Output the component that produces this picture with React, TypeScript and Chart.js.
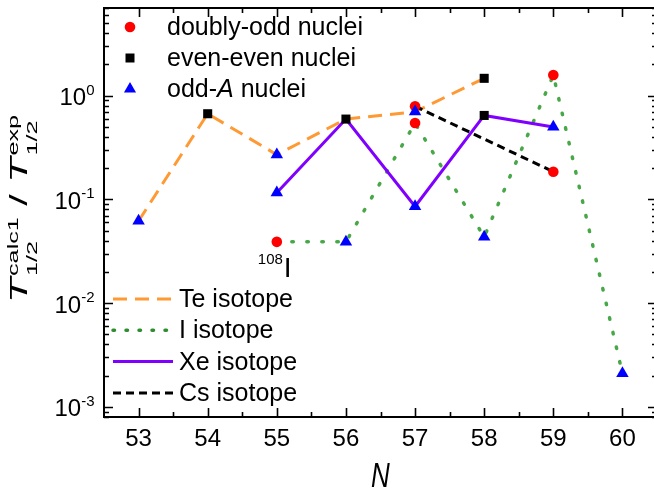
import { useEffect, useRef } from 'react';
import { Chart, registerables } from 'chart.js';

Chart.register(...registerables);

// ---- data ----
const teN = [53, 54, 55, 56, 57, 58];
const teRatio = [0.062, 0.67, 0.27, 0.595, 0.70, 1.47];
const iN = [55, 56, 57, 58, 59, 60];
const iRatio = [0.039, 0.039, 0.545, 0.0435, 1.58, 0.0021];
const xeN = [55, 56, 57, 58, 59];
const xeRatio = [0.116, 0.595, 0.0855, 0.645, 0.5];
const csN = [57, 59];
const csRatio = [0.79, 0.185];

const oddOddN = [55, 57, 57, 59, 59];
const oddOddRatio = [0.039, 0.79, 0.545, 1.58, 0.185];
const evenEvenN = [54, 56, 58, 58];
const evenEvenRatio = [0.67, 0.595, 1.47, 0.645];
const oddAN = [53, 55, 55, 56, 57, 57, 58, 59, 60];
const oddARatio = [0.062, 0.27, 0.116, 0.039, 0.7, 0.0855, 0.0435, 0.5, 0.0021];

const xTickValues = [53, 54, 55, 56, 57, 58, 59, 60];
const yTickValues = [1e-3, 1e-2, 1e-1, 1];
const yTickExponents = ['-3', '-2', '-1', '0'];
const markerLegendLabels = ['doubly-odd nuclei', 'even-even nuclei', 'odd-A nuclei'];
const lineLegendLabels = ['Te isotope', 'I isotope', 'Xe isotope', 'Cs isotope'];
const annotationN = 55;
const annotationRatio = 0.039;

const FONT = '"Liberation Sans", Arial, Helvetica, sans-serif';
const C_TE = '#FF9933';
const C_I = '#48A848';
const C_XE = '#8000FF';
const C_CS = '#000000';
const C_RED = '#FF0000';
const C_BLACK = '#000000';
const C_BLUE = '#0000FF';

const DASH_TE = [14, 8];
const DASH_I = [1.5, 13.5];
const DASH_CS = [8, 5];

const CANVAS_W = 662;
const CANVAS_H = 493;

const pts = (xs: number[], ys: number[]) => xs.map((x, i) => ({ x, y: ys[i] }));

function drawMarker(ctx: CanvasRenderingContext2D, kind: string, x: number, y: number) {
  ctx.beginPath();
  if (kind === 'circle') {
    ctx.fillStyle = C_RED;
    ctx.arc(x, y, 5.3, 0, Math.PI * 2);
  } else if (kind === 'rect') {
    ctx.fillStyle = C_BLACK;
    ctx.rect(x - 4.5, y - 4.5, 9, 9);
  } else {
    ctx.fillStyle = C_BLUE;
    const r = 7;
    for (let k = 0; k < 3; k++) {
      const ang = (k * 2 * Math.PI) / 3;
      const px = x + Math.sin(ang) * r;
      const py = y - Math.cos(ang) * r;
      if (k === 0) ctx.moveTo(px, py);
      else ctx.lineTo(px, py);
    }
    ctx.closePath();
  }
  ctx.fill();
}

const decorPlugin = {
  id: 'decor',
  afterDatasetsDraw(chart: any) {
    const { ctx, chartArea: a, scales } = chart;
    const xs = scales.x;
    const ys = scales.y;
    ctx.save();

    // frame
    ctx.strokeStyle = '#000';
    ctx.lineWidth = 2;
    ctx.strokeRect(a.left, a.top, a.right - a.left, a.bottom - a.top);

    // inward ticks
    ctx.lineWidth = 1.6;
    ctx.beginPath();
    for (let v = xs.min + 0.5; v < xs.max - 1e-9; v += 0.5) {
      const px = Math.round(xs.getPixelForValue(v)) + 0.5;
      const len = Math.abs(v - Math.round(v)) < 1e-9 ? 9 : 5;
      ctx.moveTo(px, a.bottom);
      ctx.lineTo(px, a.bottom - len);
      ctx.moveTo(px, a.top);
      ctx.lineTo(px, a.top + len);
    }
    for (let d = -4; d <= 1; d++) {
      for (let m = 1; m <= 9; m++) {
        const v = m * Math.pow(10, d);
        if (v < ys.min || v > ys.max) continue;
        const py = Math.round(ys.getPixelForValue(v)) + 0.5;
        const len = m === 1 ? 9 : 5;
        ctx.moveTo(a.left, py);
        ctx.lineTo(a.left + len, py);
        ctx.moveTo(a.right, py);
        ctx.lineTo(a.right - len, py);
      }
    }
    ctx.stroke();

    ctx.fillStyle = '#000';
    ctx.textBaseline = 'alphabetic';

    // x tick labels
    ctx.font = `24px ${FONT}`;
    ctx.textAlign = 'center';
    xTickValues.forEach((v) => {
      ctx.fillText(String(v), xs.getPixelForValue(v), a.bottom + 29);
    });

    // y tick labels 10^n
    yTickValues.forEach((v, i) => {
      const py = ys.getPixelForValue(v);
      const xr = a.left - 9.5;
      ctx.font = `15px ${FONT}`;
      const ew = ctx.measureText(yTickExponents[i]).width;
      ctx.textAlign = 'left';
      ctx.fillText(yTickExponents[i], xr - ew, py - 1);
      ctx.font = `24px ${FONT}`;
      ctx.textAlign = 'right';
      ctx.fillText('10', xr - ew, py + 9.5);
    });

    // annotation 108I
    {
      const px = xs.getPixelForValue(annotationN);
      const py = ys.getPixelForValue(annotationRatio);
      ctx.font = `15px ${FONT}`;
      ctx.textAlign = 'right';
      ctx.fillText('108', px + 6, py + 22);
      ctx.font = `28px ${FONT}`;
      ctx.textAlign = 'left';
      ctx.fillText('I', px + 7, py + 35);
    }

    // marker legend (top left)
    const kinds = ['circle', 'rect', 'triangle'];
    ctx.textAlign = 'left';
    markerLegendLabels.forEach((lab, i) => {
      const y = a.top + 19 + i * 31;
      drawMarker(ctx, kinds[i], a.left + 26, y);
      ctx.fillStyle = '#000';
      ctx.font = `25px ${FONT}`;
      const tx = a.left + 63;
      if (lab.includes('-A')) {
        const head = 'odd-';
        ctx.fillText(head, tx, y + 8);
        const w1 = ctx.measureText(head).width;
        ctx.font = `italic 25px ${FONT}`;
        ctx.fillText('A', tx + w1, y + 8);
        const w2 = ctx.measureText('A').width;
        ctx.font = `25px ${FONT}`;
        ctx.fillText(' nuclei', tx + w1 + w2, y + 8);
      } else {
        ctx.fillText(lab, tx, y + 8);
      }
    });

    // line legend (bottom left)
    const lineStyles = [
      { c: C_TE, d: DASH_TE, w: 3, cap: 'butt' },
      { c: '#2E8E2E', d: [1.5, 11.5], w: 3.5, cap: 'round' },
      { c: C_XE, d: [], w: 3, cap: 'butt' },
      { c: C_CS, d: DASH_CS, w: 3, cap: 'butt' },
    ];
    lineLegendLabels.forEach((lab, i) => {
      const y = a.top + 291 + i * 31.3;
      const s = lineStyles[i];
      ctx.save();
      ctx.strokeStyle = s.c;
      ctx.lineWidth = s.w;
      ctx.lineCap = s.cap;
      ctx.setLineDash(s.d);
      ctx.beginPath();
      ctx.moveTo(a.left + 9, y);
      ctx.lineTo(a.left + 69, y);
      ctx.stroke();
      ctx.restore();
      ctx.fillStyle = '#000';
      ctx.font = `25px ${FONT}`;
      ctx.textAlign = 'left';
      ctx.fillText(lab, a.left + 75, y + 8);
    });

    // x title N
    ctx.save();
    ctx.translate((a.left + a.right) / 2, 487);
    ctx.scale(1, 1.35);
    ctx.font = `italic 26px ${FONT}`;
    ctx.textAlign = 'center';
    ctx.fillText('N', 0, 0);
    ctx.restore();

    // y title  T^calc1_1/2 / T^exp_1/2
    ctx.save();
    ctx.translate(27, 209);
    ctx.rotate(-Math.PI / 2);
    ctx.scale(1.8, 1);
    ctx.textAlign = 'left';
    const big = `italic 23px ${FONT}`;
    const reg = `23px ${FONT}`;
    const sm = `14px ${FONT}`;
    ctx.font = big;
    const wT = ctx.measureText('T').width;
    ctx.font = sm;
    const wS1 = Math.max(ctx.measureText('calc1').width, ctx.measureText('1/2').width);
    const wS2 = Math.max(ctx.measureText('exp').width, ctx.measureText('1/2').width);
    ctx.font = reg;
    const wSl = ctx.measureText(' / ').width;
    const total = wT + 1 + wS1 + wSl + wT + 1 + wS2;
    let x = -total / 2;
    ctx.font = big;
    ctx.fillText('T', x, 0);
    x += wT + 1;
    ctx.font = sm;
    ctx.fillText('calc1', x, -9);
    ctx.fillText('1/2', x, 10);
    x += wS1;
    ctx.font = reg;
    ctx.fillText(' / ', x, 0);
    x += wSl;
    ctx.font = big;
    ctx.fillText('T', x, 0);
    x += wT + 1;
    ctx.font = sm;
    ctx.fillText('exp', x, -9);
    ctx.fillText('1/2', x, 10);
    ctx.restore();

    ctx.restore();
  },
};

export default function App() {
  const ref = useRef<HTMLCanvasElement>(null);

  useEffect(() => {
    if (!ref.current) return;
    const lineDs = (label: string, xs: number[], ys: number[], color: string, dash: number[], width: number, cap: string) => ({
      label,
      data: pts(xs, ys),
      showLine: true,
      borderColor: color,
      backgroundColor: color,
      borderWidth: width,
      borderDash: dash,
      borderCapStyle: cap,
      pointRadius: 0,
      pointHoverRadius: 0,
      tension: 0,
    });
    const chart = new Chart(ref.current, {
      type: 'scatter',
      data: {
        datasets: [
          {
            label: 'odd-A nuclei',
            data: pts(oddAN, oddARatio),
            pointStyle: 'triangle',
            pointRadius: 7.2,
            pointBackgroundColor: C_BLUE,
            pointBorderWidth: 0,
            borderColor: C_BLUE,
          },
          {
            label: 'even-even nuclei',
            data: pts(evenEvenN, evenEvenRatio),
            pointStyle: 'rect',
            pointRadius: 6.4,
            pointBackgroundColor: C_BLACK,
            pointBorderWidth: 0,
            borderColor: C_BLACK,
          },
          {
            label: 'doubly-odd nuclei',
            data: pts(oddOddN, oddOddRatio),
            pointStyle: 'circle',
            pointRadius: 5.3,
            pointBackgroundColor: C_RED,
            pointBorderWidth: 0,
            borderColor: C_RED,
          },
          lineDs('Cs isotope', csN, csRatio, C_CS, DASH_CS, 3, 'butt'),
          lineDs('Xe isotope', xeN, xeRatio, C_XE, [], 3, 'butt'),
          lineDs('I isotope', iN, iRatio, C_I, DASH_I, 3.5, 'round'),
          lineDs('Te isotope', teN, teRatio, C_TE, DASH_TE, 3, 'butt'),
        ] as any,
      },
      options: {
        animation: false,
        responsive: false,
        devicePixelRatio: 1,
        events: [],
        layout: { autoPadding: false, padding: { left: 0, top: 8, right: CANVAS_W - 657, bottom: 0 } },
        scales: {
          x: {
            type: 'linear',
            min: 52.5,
            max: 60.5,
            ticks: { display: false },
            grid: { display: false },
            border: { display: false },
            afterFit: (s: any) => {
              s.height = 76;
            },
          },
          y: {
            type: 'logarithmic',
            min: 8e-4,
            max: 7,
            ticks: { display: false },
            grid: { display: false },
            border: { display: false },
            afterFit: (s: any) => {
              s.width = 104;
            },
          },
        },
        plugins: {
          legend: { display: false },
          tooltip: { enabled: false },
          title: { display: false },
        },
      } as any,
      plugins: [decorPlugin],
    });
    return () => chart.destroy();
  }, []);

  return (
    <div style={{ position: 'fixed', left: 0, top: 0, width: 654, height: 493, overflow: 'hidden', background: '#fff' }}>
      <canvas ref={ref} width={CANVAS_W} height={CANVAS_H} style={{ display: 'block', width: CANVAS_W, height: CANVAS_H }} />
    </div>
  );
}
